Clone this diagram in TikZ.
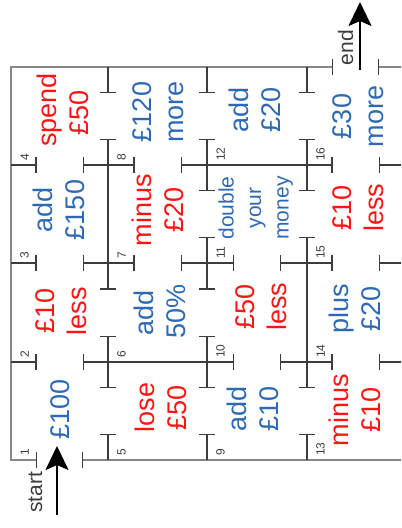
\documentclass[tikz,border=0pt]{standalone}
\usepackage{fontspec}
\setmainfont{Liberation Sans}
\usetikzlibrary{arrows.meta}
\definecolor{mblue}{RGB}{46,105,180}
\definecolor{mred}{RGB}{255,20,20}
\definecolor{wallc}{RGB}{60,60,60}
\definecolor{framec}{RGB}{135,135,135}
\begin{document}
\begin{tikzpicture}[x=1bp,y=-1bp,
  wall/.style={draw=wallc, line width=1.3bp},
  tt/.style={wall, {Bar[width=16bp]}-{Bar[width=16bp]}},
  ft/.style={wall, -{Bar[width=16bp]}},
  frame/.style={draw=framec, line width=2.6bp},
  big/.style={rotate=90, anchor=base, inner sep=0pt, font=\fontsize{27bp}{32.5bp}\selectfont},
  rd/.style={big, text=mred},
  bl/.style={big, text=mblue},
  sm/.style={rotate=90, anchor=base, inner sep=0pt, text=mblue, font=\fontsize{21bp}{27bp}\selectfont},
  num/.style={rotate=90, anchor=south west, inner sep=0pt, text=wallc, font=\fontsize{12bp}{14bp}\selectfont},
  lab/.style={rotate=90, anchor=base, inner sep=0pt, text=wallc, font=\fontsize{21bp}{25bp}\selectfont},
  arr/.style={draw=black, line width=2.4bp, -{Stealth[length=24bp,width=23bp,inset=5bp]}}
]
\useasboundingbox (0,0) rectangle (401,528);
\clip (0,0) rectangle (401,528);

% outer frame
\draw[frame] (332.5,67) -- (11,67) -- (11,460) -- (36.5,460);
\draw[frame] (82.5,460) -- (404,460) -- (404,67) -- (378.5,67);
\draw[wall] (332.5,59) -- (332.5,75);
\draw[wall] (378.5,59) -- (378.5,75);
\draw[wall] (36.5,452) -- (36.5,468);
\draw[wall] (82.5,452) -- (82.5,468);

% horizontal walls
\draw[ft] (11,165) -- (36.5,165);
\draw[tt] (82.5,165) -- (134.5,165);
\draw[tt] (180.5,165) -- (332.5,165);
\draw[ft] (404,165) -- (378.5,165);

\draw[ft] (11,263) -- (36.5,263);
\draw[tt] (82.5,263) -- (134.5,263);
\draw[tt] (180.5,263) -- (234,263);
\draw[tt] (280,263) -- (332.5,263);
\draw[ft] (404,263) -- (378.5,263);

\draw[ft] (11,362) -- (36.5,362);
\draw[tt] (82.5,362) -- (234,362);
\draw[tt] (280,362) -- (332.5,362);
\draw[ft] (404,362) -- (378.5,362);

% vertical walls
\draw[ft] (108,67) -- (108,93);
\draw[tt] (108,139) -- (108,289.5);
\draw[tt] (108,335.5) -- (108,388);
\draw[ft] (108,460) -- (108,434);

\draw[ft] (207,67) -- (207,93);
\draw[tt] (207,139) -- (207,191);
\draw[tt] (207,237) -- (207,289.5);
\draw[tt] (207,335.5) -- (207,388);
\draw[ft] (207,460) -- (207,434);

\draw[ft] (307,67) -- (307,93);
\draw[tt] (307,139) -- (307,191);
\draw[tt] (307,237) -- (307,388);
\draw[ft] (307,460) -- (307,434);

% cell numbers
\foreach \n/\xx/\yy in {1/11/460,2/11/362,3/11/263,4/11/165,
  5/108/460,6/108/362,7/108/263,8/108/165,
  9/207/460,10/207/362,11/207/263,12/207/165,
  13/307/460,14/307/362,15/307/263,16/307/165}
  \node[num] (n\n) at (\xx+18,\yy-4) {\n};

% cell texts
\node[bl] (c1a) at (69,409) {£100};

\node[rd] (c2a) at (54,311) {£10};
\node[rd] (c2b) at (86.5,311) {less};

\node[bl] (c3a) at (52,210) {add};
\node[bl] (c3b) at (84.5,210) {£150};

\node[rd] (c4a) at (56,110) {spend};
\node[rd] (c4b) at (88.5,113) {£50};

\node[rd] (c5a) at (154,407.5) {lose};
\node[rd] (c5b) at (186.5,408) {£50};

\node[bl] (c6a) at (153,312.5) {add};
\node[bl] (c6b) at (185.5,311.5) {50\%};

\node[rd] (c7a) at (151,210) {minus};
\node[rd] (c7b) at (183.5,210) {£20};

\node[bl] (c8a) at (151,112) {£120};
\node[bl] (c8b) at (183.5,112) {more};

\node[bl] (c9a) at (246,409) {add};
\node[bl] (c9b) at (278.5,409) {£10};

\node[rd] (c10a) at (254,306.5) {£50};
\node[rd] (c10b) at (286.5,306.5) {less};

\node[sm] (c11a) at (233.5,208) {double};
\node[sm] (c11b) at (261,208) {your};
\node[sm] (c11c) at (288.5,208) {money};

\node[bl] (c12a) at (248,110) {add};
\node[bl] (c12b) at (280.5,110) {£20};

\node[rd] (c13a) at (348,410) {minus};
\node[rd] (c13b) at (380.5,409.5) {£10};

\node[bl] (c14a) at (348,308.5) {plus};
\node[bl] (c14b) at (380.5,308.5) {£20};

\node[rd] (c15a) at (351,207.5) {£10};
\node[rd] (c15b) at (383.5,207.5) {less};

\node[bl] (c16a) at (351,116.5) {£30};
\node[bl] (c16b) at (383.5,116.5) {more};

% start / end
\coordinate (s0) at (57,515);
\coordinate (s1) at (57,446);
\draw[arr] (s0) -- (s1);
\node[lab] (startlbl) at (42,492.5) {start};

\coordinate (e0) at (360,70);
\coordinate (e1) at (360,2);
\draw[arr] (e0) -- (e1);
\node[lab] (endlbl) at (353,47.5) {end};
\end{tikzpicture}
\end{document}
